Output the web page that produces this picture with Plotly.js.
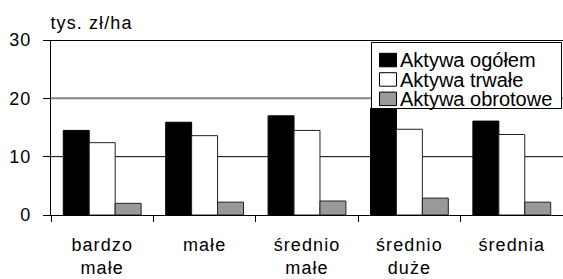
<!DOCTYPE html>
<html><head><meta charset="utf-8">
<script src="https://cdn.plot.ly/plotly-3.0.1.min.js"></script>
<style>
html,body{margin:0;padding:0;background:#fff}
#c{width:563px;height:279px}
#c .xtick text, #c .ytick text, #c .annotation[data-index="0"] text{letter-spacing:1.1px}
</style>
</head><body><div id="c"></div>
<script>
const categories = ["bardzo<br>małe", "małe", "średnio<br>małe", "średnio<br>duże", "średnia"];
const seriesNames = ["Aktywa ogółem", "Aktywa trwałe", "Aktywa obrotowe"];
const aktywaOgolem = [14.5, 15.9, 17.0, 18.3, 16.1];
const aktywaTrwale = [12.4, 13.6, 14.5, 14.7, 13.8];
const aktywaObrotowe = [2.0, 2.2, 2.4, 2.9, 2.2];
const yTicks = [0, 10, 20, 30];
const yUnit = "tys. zł/ha";

const F = "Liberation Sans, Arial, sans-serif";
const W = 563, H = 279, ML = 51, MR = 0, MT = 40, MB = 64;
const PW = W - ML - MR, PH = H - MT - MB;
const px = v => (v - ML) / PW;          // pixel -> paper x
const py = v => (H - MB - v) / PH;      // pixel -> paper y

const styles = [
  {fill:'#000000', line:'#000000'},
  {fill:'#ffffff', line:'#222222'},
  {fill:'#999999', line:'#222222'}
];
const seriesData = [aktywaOgolem, aktywaTrwale, aktywaObrotowe];
const traces = seriesData.map((d, i) => ({
  type:'bar', name:seriesNames[i], x:categories, y:d,
  marker:{color:styles[i].fill, line:{color:styles[i].line, width:1}}
}));

// grid lines (10 black, 20 gray, 30 black)
const gridStyle = {10:{c:'#000', w:1}, 20:{c:'#858585', w:2}, 30:{c:'#000', w:2}};
const gridShapes = yTicks.filter(t => gridStyle[t]).map(t => ({
  type:'line', xref:'paper', yref:'y', x0:0, x1:1, y0:t, y1:t,
  line:{color:gridStyle[t].c, width:gridStyle[t].w}, layer:'below'
}));

// manual legend (box + swatches + labels)
const legShapes = [
  {type:'rect', xref:'paper', yref:'paper', x0:px(371.5), x1:px(561.5), y0:py(108.5), y1:py(42.5),
   fillcolor:'#fff', line:{color:'#000', width:1}, layer:'above'}
];
const legAnn = [];
seriesNames.forEach((n, i) => {
  const top = 53.3 + i * 19.4;
  legShapes.push({type:'rect', xref:'paper', yref:'paper', x0:px(379.5), x1:px(396.5), y0:py(top + 13.5), y1:py(top),
    fillcolor:styles[i].fill, line:{color:'#000', width:1}, layer:'above'});
  legAnn.push({text:n, xref:'paper', yref:'paper', x:px(398.5), y:py(top + 6.8), xanchor:'left', yanchor:'middle',
    showarrow:false, borderpad:0, font:{family:F, size:20, color:'#000'}});
});

const layout = {
  width:W, height:H,
  margin:{l:ML, r:MR, t:MT, b:MB},
  paper_bgcolor:'#fff', plot_bgcolor:'#fff',
  font:{family:F, size:18, color:'#000'},
  barmode:'group', bargap:0.24, bargroupgap:0,
  showlegend:false,
  xaxis:{type:'category', showline:true, linecolor:'#000', linewidth:1, ticks:'outside', ticklen:6, tickcolor:'#000',
         tickson:'boundaries', showgrid:false, ticklabelstandoff:13, tickfont:{family:F, size:18}},
  yaxis:{range:[0,30], tickvals:yTicks, ticktext:yTicks.map(String), showline:true, linecolor:'#000', linewidth:1,
         ticks:'outside', ticklen:7, tickcolor:'#000', showgrid:false,
         zeroline:false, ticklabelstandoff:8, tickfont:{family:F, size:18}},
  shapes:gridShapes.concat(legShapes),
  annotations:[{text:yUnit, xref:'paper', yref:'paper', x:px(54), y:1.0, xanchor:'left', yanchor:'bottom', yshift:5,
                showarrow:false, font:{family:F, size:18, color:'#000'}}].concat(legAnn)
};
Plotly.newPlot('c', traces, layout, {displayModeBar:false, staticPlot:true});
</script></body></html>
